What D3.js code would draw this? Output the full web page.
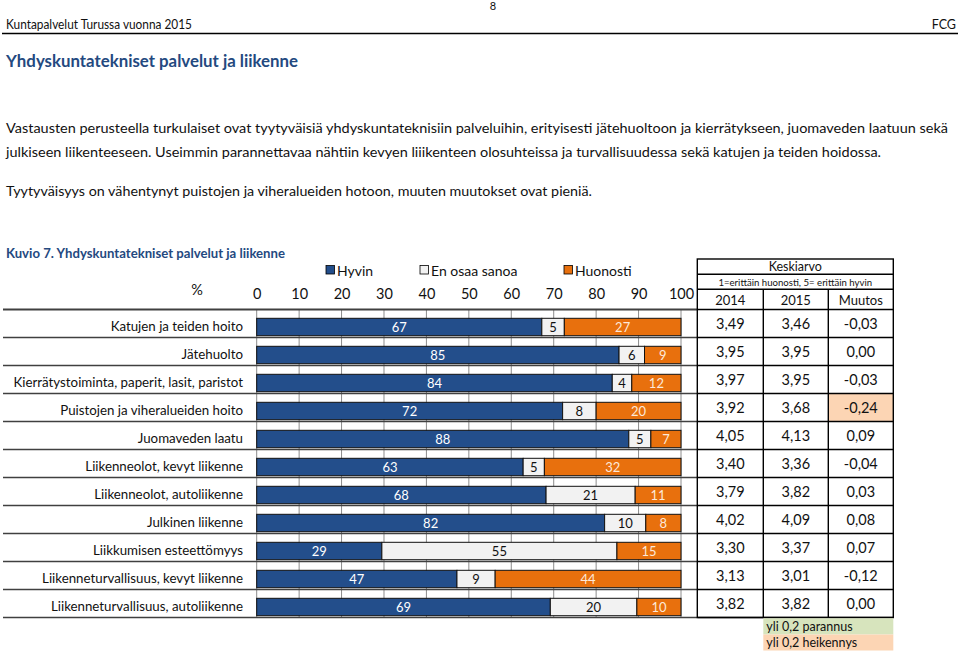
<!DOCTYPE html>
<html><head><meta charset="utf-8">
<script src="https://cdn.jsdelivr.net/npm/d3@7"></script>
<style>
body{margin:0;background:#fff}
svg{display:block}
text{font-family:Lato,"Open Sans",sans-serif;fill:#111}
</style>
</head><body>
<svg id="c" width="960" height="654"></svg>
<script>
// ---------- data ----------
const categories = [
  "Katujen ja teiden hoito",
  "Jätehuolto",
  "Kierrätystoiminta, paperit, lasit, paristot",
  "Puistojen ja viheralueiden hoito",
  "Juomaveden laatu",
  "Liikenneolot, kevyt liikenne",
  "Liikenneolot, autoliikenne",
  "Julkinen liikenne",
  "Liikkumisen esteettömyys",
  "Liikenneturvallisuus, kevyt liikenne",
  "Liikenneturvallisuus, autoliikenne"
];
const seriesNames = ["Hyvin", "En osaa sanoa", "Huonosti"];
const hyvin    = [67.2, 85.4, 83.8, 72.1, 87.7, 62.8, 68.2, 82.0, 29.5, 47.2, 69.2];
const eos      = [5.3, 6.0, 4.6, 7.9, 5.2, 5.0, 21.0, 9.7, 55.4, 9.0, 20.4];
const huonosti = [27.5, 8.6, 11.6, 20.0, 7.1, 32.2, 10.8, 8.3, 15.1, 43.8, 10.4];
const hyvinLabels    = [67, 85, 84, 72, 88, 63, 68, 82, 29, 47, 69];
const eosLabels      = [5, 6, 4, 8, 5, 5, 21, 10, 55, 9, 20];
const huonostiLabels = [27, 9, 12, 20, 7, 32, 11, 8, 15, 44, 10];
const ka2014 = [3.49, 3.95, 3.97, 3.92, 4.05, 3.40, 3.79, 4.02, 3.30, 3.13, 3.82];
const ka2015 = [3.46, 3.95, 3.95, 3.68, 4.13, 3.36, 3.82, 4.09, 3.37, 3.01, 3.82];
const muutos = [-0.03, 0.00, -0.03, -0.24, 0.09, -0.04, 0.03, 0.08, 0.07, -0.12, 0.00];
const xTicks = [0, 10, 20, 30, 40, 50, 60, 70, 80, 90, 100];
const tableColumns = ["2014", "2015", "Muutos"];

// ---------- setup ----------
const svg = d3.select("#c");
const BLUE = "#234e8b", ORANGE = "#e8700d", WHITE = "#f2f2f2";
const TITLE = "#24497f";
const fmt = v => (v < 0 ? "-" : "") + Math.abs(v).toFixed(2).replace(".", ",");

function txt(x, y, s, opt = {}) {
  const t = svg.append("text").attr("x", x).attr("y", y).text(s)
    .style("font-size", (opt.size || 13) + "px");
  if (opt.anchor) t.attr("text-anchor", opt.anchor);
  if (opt.weight) t.style("font-weight", opt.weight);
  if (opt.fill) t.style("fill", opt.fill);
  if (opt.len) t.attr("textLength", opt.len).attr("lengthAdjust", "spacingAndGlyphs");
  return t;
}

// ---------- page header ----------
txt(493, 10, "8", {size: 11, anchor: "middle"});
txt(6, 29, "Kuntapalvelut Turussa vuonna 2015", {size: 12.5, len: 186});
txt(956, 29, "FCG", {size: 12.5, anchor: "end"});
svg.append("line").attr("x1", 2).attr("x2", 958).attr("y1", 33.5).attr("y2", 33.5)
  .attr("stroke", "#000").attr("stroke-width", 1.6);
txt(6, 67, "Yhdyskuntatekniset palvelut ja liikenne", {size: 17, weight: "bold", fill: TITLE, len: 292});

txt(6, 133, "Vastausten perusteella turkulaiset ovat tyytyväisiä yhdyskuntateknisiin palveluihin, erityisesti jätehuoltoon ja kierrätykseen, juomaveden laatuun  sekä", {size: 14, len: 942});
txt(6, 157, "julkiseen liikenteeseen. Useimmin parannettavaa nähtiin kevyen liiikenteen olosuhteissa ja turvallisuudessa sekä katujen ja teiden hoidossa.", {size: 14, len: 875});
txt(6, 196, "Tyytyväisyys on vähentynyt puistojen ja viheralueiden hotoon, muuten muutokset ovat pieniä.", {size: 14, len: 586});

txt(6, 257.5, "Kuvio 7. Yhdyskuntatekniset palvelut ja liikenne", {size: 13, weight: "bold", fill: TITLE, len: 279});

// ---------- scales ----------
const x = d3.scaleLinear().domain([0, 100]).range([256.7, 681]);
const row = d3.scaleBand().domain(categories).range([309.5, 617.5]);

// ---------- legend ----------
const legendX = [326, 420, 564];
const legendFill = [BLUE, WHITE, ORANGE];
seriesNames.forEach((s, i) => {
  svg.append("rect").attr("x", legendX[i]).attr("y", 265.5).attr("width", 8.5).attr("height", 8.5)
    .attr("fill", legendFill[i]).attr("stroke", "#000").attr("stroke-width", 0.8);
  txt(legendX[i] + 11, 275.5, s, {size: 14});
});

// ---------- axis ----------
txt(197, 295, "%", {size: 14.5, anchor: "middle"});
const axisG = svg.append("g").attr("transform", "translate(0,304)")
  .call(d3.axisTop(x).tickValues(xTicks).tickSize(0).tickPadding(5.5).tickFormat(d3.format("d")));
axisG.select(".domain").remove();
axisG.selectAll("text").style("font-size", "14.5px").style("font-family", "Lato, sans-serif").attr("fill", "#111");

// gridlines
svg.append("g").selectAll("line").data(xTicks).join("line")
  .attr("x1", d => x(d)).attr("x2", d => x(d))
  .attr("y1", 309.5).attr("y2", 617.5)
  .attr("stroke", "#8c8c8c").attr("stroke-width", 1);

// row separators
const bounds = categories.map(c => row(c)).concat([row.range()[1]]);
svg.append("g").selectAll("line").data(bounds).join("line")
  .attr("x1", 3).attr("x2", 697).attr("y1", d => d).attr("y2", d => d)
  .attr("stroke", "#404040").attr("stroke-width", (d, i) => i === 0 ? 2 : 1.4);

// ---------- bars ----------
const rows = categories.map((c, i) => ({c, vals: [hyvin[i], eos[i], huonosti[i]],
  labels: [hyvinLabels[i], eosLabels[i], huonostiLabels[i]]}));
const segs = [];
rows.forEach(r => {
  let acc = 0;
  r.vals.forEach((v, k) => { segs.push({c: r.c, k, x0: acc, x1: acc + v, label: r.labels[k]}); acc += v; });
});
const barOff = 8.8, barH = 17.4;
const labelFill = ["#ffffff", "#111111", "#fde9d9"];
svg.append("g").selectAll("rect").data(segs).join("rect")
  .attr("x", d => x(d.x0)).attr("width", d => x(d.x1) - x(d.x0))
  .attr("y", d => row(d.c) + barOff).attr("height", barH)
  .attr("fill", d => legendFill[d.k]).attr("stroke", "#111").attr("stroke-width", 1);
svg.append("g").selectAll("text").data(segs).join("text")
  .attr("x", d => (x(d.x0) + x(d.x1)) / 2).attr("y", d => row(d.c) + barOff + barH / 2)
  .attr("dy", "0.36em").attr("text-anchor", "middle")
  .style("font-size", "13px").style("fill", d => labelFill[d.k])
  .text(d => d.label);

// category labels
svg.append("g").selectAll("text").data(categories).join("text")
  .attr("x", 243).attr("y", d => row(d) + 21.5).attr("text-anchor", "end")
  .style("font-size", "13.3px").text(d => d);

// ---------- table ----------
const tx0 = 697.3, tx1 = 893.3, colX = [697.3, 763.3, 828.3, 893.3];
const tTop = 259, tTop2 = 274.3, tTop3 = 289.3, tBottom = row.range()[1];
const tbl = svg.append("g");
// highlights
muutos.forEach((m, i) => {
  if (m <= -0.2 || m >= 0.2) {
    tbl.append("rect").attr("x", colX[2]).attr("y", row(categories[i]))
      .attr("width", colX[3] - colX[2]).attr("height", row.bandwidth())
      .attr("fill", m < 0 ? "#fcd5b4" : "#d7e4bd");
  }
});
tbl.append("rect").attr("x", tx0).attr("y", tTop).attr("width", tx1 - tx0).attr("height", tBottom - tTop)
  .attr("fill", "none").attr("stroke", "#000").attr("stroke-width", 1.4);
[tTop2, tTop3].concat(bounds).forEach(y => {
  tbl.append("line").attr("x1", tx0).attr("x2", tx1).attr("y1", y).attr("y2", y)
    .attr("stroke", "#000").attr("stroke-width", 1.4);
});
[colX[1], colX[2]].forEach(cx => {
  tbl.append("line").attr("x1", cx).attr("x2", cx).attr("y1", tTop3).attr("y2", tBottom)
    .attr("stroke", "#000").attr("stroke-width", 1.4);
});
const midX = (tx0 + tx1) / 2;
txt(midX, 271, "Keskiarvo", {size: 12.5, anchor: "middle"});
txt(midX, 285.5, "1=erittäin huonosti, 5= erittäin hyvin", {size: 9.6, anchor: "middle"});
tableColumns.forEach((s, j) => txt((colX[j] + colX[j + 1]) / 2, 304.5, s, {size: 13, anchor: "middle"}));
[ka2014, ka2015, muutos].forEach((arr, j) => {
  tbl.selectAll(null).data(arr).join("text")
    .attr("x", (colX[j] + colX[j + 1]) / 2)
    .attr("y", (d, i) => row(categories[i]) + row.bandwidth() / 2)
    .attr("dy", "0.36em").attr("text-anchor", "middle")
    .style("font-size", "14.5px").text(d => fmt(d));
});
// change legend
tbl.append("rect").attr("x", colX[1]).attr("y", tBottom + 0.8).attr("width", colX[3] - colX[1]).attr("height", 16.2).attr("fill", "#d7e4bd");
tbl.append("rect").attr("x", colX[1]).attr("y", tBottom + 17).attr("width", colX[3] - colX[1]).attr("height", 16).attr("fill", "#fcd5b4");
txt(colX[1] + 3, tBottom + 13, "yli 0,2 parannus", {size: 12.5});
txt(colX[1] + 3, tBottom + 29, "yli 0,2 heikennys", {size: 12.5});
</script>
</body></html>
